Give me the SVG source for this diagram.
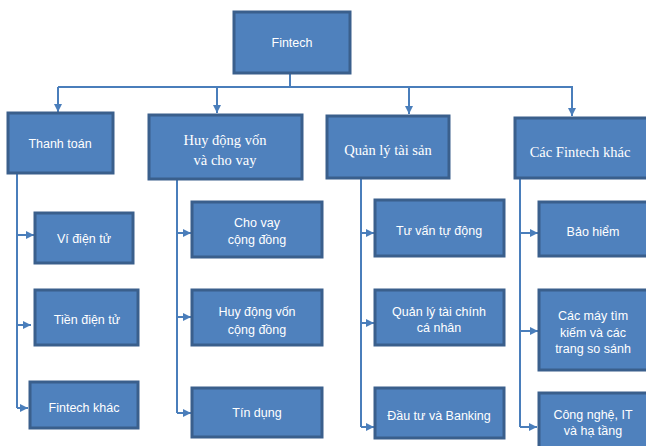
<svg xmlns="http://www.w3.org/2000/svg" width="646" height="446" viewBox="0 0 646 446">
<defs>
<marker id="arr" viewBox="0 0 10 10" refX="10" refY="5" markerWidth="4" markerHeight="4" orient="auto" markerUnits="strokeWidth">
<path d="M0,0 L10,5 L0,10 z" fill="#4A7EBB"/>
</marker>
<style>
.box{fill:#4F81BD;stroke:#3A5F8C;stroke-width:3}
.s{fill:#fff;font-family:"Liberation Sans",Arial,sans-serif;font-size:12.5px;text-anchor:middle}
.t{fill:#fff;font-family:"Liberation Serif","Times New Roman",serif;font-size:14.5px;text-anchor:middle}
.c{fill:none;stroke:#4A7EBB;stroke-width:2}
.a{fill:none;stroke:#4A7EBB;stroke-width:2;marker-end:url(#arr)}
</style>
</defs>
<rect width="646" height="446" fill="#fff"/>
<g id="connectors">
<path class="c" d="M290,73 V87 M58,87 H573"/>
<path class="a" d="M58,87 V112"/>
<path class="a" d="M217,87 V113"/>
<path class="a" d="M409,87 V114"/>
<path class="a" d="M572,87 V116"/>
<path class="c" d="M17,173 V408"/>
<path class="a" d="M17,235 H34"/>
<path class="a" d="M17,325 H31"/>
<path class="a" d="M17,408 H28"/>
<path class="c" d="M177,179 V413"/>
<path class="a" d="M177,233 H191"/>
<path class="a" d="M177,317 H191"/>
<path class="a" d="M177,413 H191"/>
<path class="c" d="M361,178 V427"/>
<path class="a" d="M361,233 H374"/>
<path class="a" d="M361,323 H374"/>
<path class="a" d="M361,427 H374"/>
<path class="c" d="M520,178 V427"/>
<path class="a" d="M520,233 H538"/>
<path class="a" d="M520,331 H538"/>
<path class="a" d="M520,427 H537"/>
</g>
<g id="fintech"><rect class="box" x="234" y="12" width="116" height="61"/><text class="s" x="292" y="47" font-size="13">Fintech</text></g>
<g id="thanh-toan"><rect class="box" x="8" y="113" width="105" height="60"/><text class="s" x="60" y="148">Thanh toán</text></g>
<g id="huy-dong"><rect class="box" x="149" y="115" width="153" height="64"/><text class="t" x="225" y="145">Huy động vốn</text><text class="t" x="225" y="165">và cho vay</text></g>
<g id="quan-ly"><rect class="box" x="327" y="116" width="122" height="62"/><text class="t" x="388" y="155">Quản lý tài sản</text></g>
<g id="cac-fintech"><rect class="box" x="515" y="118" width="133" height="60"/><text class="t" x="580" y="157">Các Fintech khác</text></g>
<g id="vi-dien-tu"><rect class="box" x="35" y="213" width="98" height="50"/><text class="s" x="84" y="243">Ví điện tử</text></g>
<g id="tien-dien-tu"><rect class="box" x="35" y="290" width="103" height="55"/><text class="s" x="87" y="324">Tiền điện tử</text></g>
<g id="fintech-khac"><rect class="box" x="30" y="382" width="108" height="46"/><text class="s" x="84" y="412">Fintech khác</text></g>
<g id="cho-vay"><rect class="box" x="192" y="202" width="130" height="55"/><text class="s" x="257" y="227">Cho vay</text><text class="s" x="257" y="244">cộng đồng</text></g>
<g id="huy-dong-von"><rect class="box" x="192" y="290" width="130" height="55"/><text class="s" x="257" y="316">Huy động vốn</text><text class="s" x="257" y="334">cộng đồng</text></g>
<g id="tin-dung"><rect class="box" x="192" y="388" width="130" height="49"/><text class="s" x="257" y="417">Tín dụng</text></g>
<g id="tu-van"><rect class="box" x="375" y="200" width="129" height="56"/><text class="s" x="439" y="235">Tư vấn tự động</text></g>
<g id="quan-ly-tai-chinh"><rect class="box" x="375" y="290" width="129" height="55"/><text class="s" x="439" y="316">Quản lý tài chính</text><text class="s" x="439" y="332">cá nhân</text></g>
<g id="dau-tu"><rect class="box" x="375" y="388" width="129" height="50"/><text class="s" x="439" y="420">Đầu tư và Banking</text></g>
<g id="bao-hiem"><rect class="box" x="539" y="202" width="109" height="54"/><text class="s" x="593" y="236">Bảo hiểm</text></g>
<g id="may-tim-kiem"><rect class="box" x="539" y="290" width="109" height="80"/><text class="s" x="593" y="320">Các máy tìm</text><text class="s" x="593" y="337">kiếm và các</text><text class="s" x="593" y="353">trang so sánh</text></g>
<g id="cong-nghe"><rect class="box" x="539" y="393" width="109" height="56"/><text class="s" x="593" y="419">Công nghệ, IT</text><text class="s" x="593" y="435">và hạ tầng</text></g>
</svg>
